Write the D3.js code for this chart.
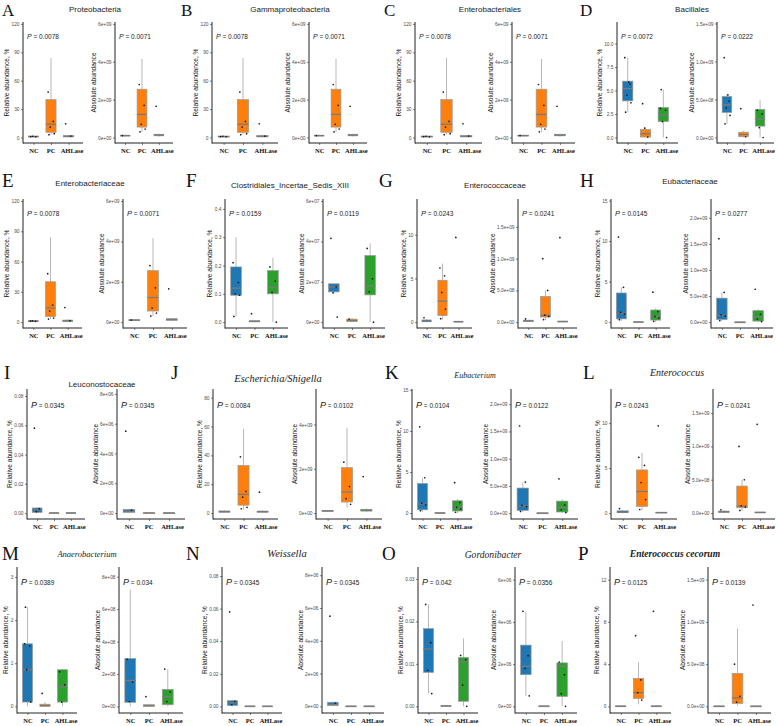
<!DOCTYPE html>
<html><head><meta charset="utf-8">
<script src="https://cdn.jsdelivr.net/npm/d3@7"></script>
<style>body{margin:0;background:#fff}svg{display:block}</style>
</head><body><svg id="chart" width="777" height="726"></svg>
<script>
// ---------------- DATA ----------------
const groups = ["NC", "PC", "AHLase"];
const groupColors = ["#1f77b4", "#ff7f0e", "#2ca02c"];

const panelLetters = ["A","B","C","D","E","F","G","H","I","J","K","L","M","N","O","P"];
const panelTitles = ["Proteobacteria","Gammaproteobacteria","Enterobacteriales","Bacillales",
  "Enterobacteriaceae","Clostridiales_Incertae_Sedis_XIII","Enterococcaceae","Eubacteriaceae",
  "Leuconostocaceae","Escherichia/Shigella","Eubacterium","Enterococcus",
  "Anaerobacterium","Weissella","Gordonibacter","Enterococcus cecorum"];
const titleStyles = ["sans","sans","sans","sans","sans","sans","sans","sans",
  "sans","italic","italic","italic","italic","italic","italic","bolditalic"];

const pRel = ["0.0078","0.0078","0.0078","0.0072","0.0078","0.0159","0.0243","0.0145",
  "0.0345","0.0084","0.0104","0.0243","0.0389","0.0345","0.042","0.0125"];
const pAbs = ["0.0071","0.0071","0.0071","0.0222","0.0071","0.0119","0.0241","0.0277",
  "0.0345","0.0102","0.0122","0.0241","0.034","0.0345","0.0356","0.0139"];

// tick values / labels
const tProtRel = [0,30,60,90,120], lProtRel = ["0","30","60","90","120"];
const tProtAbs = [0,2e9,4e9,6e9], lProtAbs = ["0e+00","2e+09","4e+09","6e+09"];
const tBacRel = [0,2.5,5,7.5,10], lBacRel = ["0.0","2.5","5.0","7.5","10.0"];
const tE9half = [0,5e8,1e9,1.5e9], lE9half = ["0.0e+00","5.0e+08","1.0e+09","1.5e+09"];
const tClosRel = [0,0.1,0.2,0.3,0.4], lClosRel = ["0.0","0.1","0.2","0.3","0.4"];
const tClosAbs = [0,2e7,4e7,6e7], lClosAbs = ["0e+00","2e+07","4e+07","6e+07"];
const tEntRel = [0,5,10], lEntRel = ["0","5","10"];
const tEubRel = [0,5,10,15], lEubRel = ["0","5","10","15"];
const tEubAbs = [0,5e8,1e9,1.5e9,2e9], lEubAbs = ["0.0e+00","5.0e+08","1.0e+09","1.5e+09","2.0e+09"];
const tLeuRel = [0,0.02,0.04,0.06,0.08], lLeuRel = ["0.00","0.02","0.04","0.06","0.08"];
const tLeuAbs = [0,2e6,4e6,6e6,8e6], lLeuAbs = ["0e+00","2e+06","4e+06","6e+06","8e+06"];
const tEscRel = [0,20,40,60,80], lEscRel = ["0","20","40","60","80"];
const tEscAbs = [0,2e9,4e9], lEscAbs = ["0e+00","2e+09","4e+09"];
const tAnaRel = [0,1,2,3], lAnaRel = ["0","1","2","3"];
const tAnaAbs = [0,2e8,4e8,6e8,8e8], lAnaAbs = ["0e+00","2e+08","4e+08","6e+08","8e+08"];
const tGorRel = [0,0.01,0.02,0.03], lGorRel = ["0.00","0.01","0.02","0.03"];
const tGorAbs = [0,2e6,4e6,6e6], lGorAbs = ["0e+00","2e+06","4e+06","6e+06"];
const tCecRel = [0,4,8,12], lCecRel = ["0","4","8","12"];

const relTicks = [tProtRel,tProtRel,tProtRel,tBacRel,tProtRel,tClosRel,tEntRel,tEubRel,
  tLeuRel,tEscRel,tEubRel,tEntRel,tAnaRel,tLeuRel,tGorRel,tCecRel];
const relTickLabels = [lProtRel,lProtRel,lProtRel,lBacRel,lProtRel,lClosRel,lEntRel,lEubRel,
  lLeuRel,lEscRel,lEubRel,lEntRel,lAnaRel,lLeuRel,lGorRel,lCecRel];
const absTicks = [tProtAbs,tProtAbs,tProtAbs,tE9half,tProtAbs,tClosAbs,tE9half,tEubAbs,
  tLeuAbs,tEscAbs,tEubAbs,tE9half,tAnaAbs,tLeuAbs,tGorAbs,tE9half];
const absTickLabels = [lProtAbs,lProtAbs,lProtAbs,lE9half,lProtAbs,lClosAbs,lE9half,lEubAbs,
  lLeuAbs,lEscAbs,lEubAbs,lE9half,lAnaAbs,lLeuAbs,lGorAbs,lE9half];

// upper end of each y scale
const relTop = [122,122,122,12.3,122,0.435,14.1,15.2,0.0848,86,15.1,13.8,3.23,0.0855,0.0328,13.2];
const absTop = [6.1e9,6.1e9,6.1e9,1.52e9,6.1e9,6.1e7,1.94e9,2.36e9,8.33e6,5.6e9,2.28e9,1.86e9,8.6e8,8.5e6,6.6e6,1.65e9];

// box stats per group: [lower whisker, Q1, median, Q3, upper whisker]
const protRelBoxes = [[0.3,0.6,1.0,1.5,2.0],[3,5.5,14,40,84],[0.3,0.6,1.2,2.0,2.8]];
const protRelPoints = [[1.0,0.8,1.3],[48,17,11,4,3],[14.5,1.5]];
const protAbsBoxes = [[0.6e8,0.8e8,1.0e8,1.2e8,1.4e8],[0.3e9,0.55e9,1.22e9,2.55e9,4.15e9],[0.5e8,0.9e8,1.3e8,1.7e8,2.0e8]];
const protAbsPoints = [[1.0e8],[2.8e9,1.7e9,0.7e9,0.45e9,0.3e9],[1.65e9]];

const bacRelBoxes = [[2.7,3.9,5.2,6.0,8.5],[0,0.05,0.4,0.85,1.05],[0,1.7,2.4,3.2,5.1]];
const bacRelPoints = [[8.5,5.7,4.5,3.7,2.7,5.9],[3.6,0.05,1.0],[3.1,2.9,1.7,0,5.1]];
const bacAbsBoxes = [[1.8e8,3.3e8,4.3e8,5.4e8,5.7e8],[0,0.1e8,0.4e8,0.7e8,0.85e8],[0,1.5e8,2.4e8,3.7e8,4.9e8]];
const bacAbsPoints = [[10.5e8,4.8e8,3.9e8,2.9e8,1.8e8,5.6e8],[3.8e8,0.1e8],[3.6e8,3.1e8,1.3e8,0]];

const closRelBoxes = [[0.02,0.095,0.12,0.195,0.3],[0,0.001,0.003,0.005,0.006],[0,0.1,0.122,0.182,0.228]];
const closRelPoints = [[0.21,0.14,0.1,0.095,0.02],[0.03],[0.195,0.145,0.105,0]];
const closAbsBoxes = [[1.4e7,1.5e7,1.75e7,1.9e7,1.9e7],[0,0.03e7,0.08e7,0.15e7,0.2e7],[0,1.35e7,1.8e7,3.3e7,3.9e7]];
const closAbsPoints = [[4.15e7,1.75e7,1.45e7,0.25e7],[0.15e7],[3.65e7,2.15e7,1.5e7,0]];

const entRelBoxes = [[0,0.05,0.1,0.25,0.35],[0.3,0.75,2.4,4.8,6.7],[0,0.02,0.05,0.1,0.15]];
const entRelPoints = [[0.5],[6.2,5.3,3.4,1.5,0.4],[9.7]];
const entAbsBoxes = [[0,0.1e8,0.2e8,0.3e8,0.4e8],[0.3e8,0.8e8,1.05e8,4.05e8,5e8],[0,0.05e8,0.1e8,0.15e8,0.2e8]];
const entAbsPoints = [[0.5e8],[10e8,5e8,1.1e8,0.9e8,0.4e8],[13.3e8]];

const eubRelBoxes = [[0.15,0.4,1.1,3.6,4.3],[0,0,0.02,0.04,0.05],[0,0.25,0.7,1.5,1.7]];
const eubRelPoints = [[10.5,4.3,1.2,1.0,0.3],[],[3.7,1.3,0.7,0.5,0.1]];
const eubAbsBoxes = [[0.2e8,0.5e8,1.3e8,4.6e8,5.7e8],[0,0,0.01e8,0.02e8,0.03e8],[0,0.2e8,1.0e8,2.2e8,2.5e8]];
const eubAbsPoints = [[16e8,5.7e8,1.4e8,1.2e8,0.3e8],[],[6.3e8,1.5e8,0.6e8,0.1e8]];

const leuRelBoxes = [[0,0.0005,0.0022,0.0035,0.004],[0,0,0.0001,0.0002,0.0003],[0,0,0.0001,0.0002,0.0003]];
const leuRelPoints = [[0.058,0.003,0.001],[],[]];
const leuAbsBoxes = [[0,0.5e5,1.2e5,2.5e5,3e5],[0,0,0.1e5,0.2e5,0.3e5],[0,0,0.1e5,0.2e5,0.3e5]];
const leuAbsPoints = [[5.5e6,2e5],[],[]];

const escRelBoxes = [[0.3,0.6,1.0,1.5,2.0],[2.5,5.5,13,33,58.5],[0.3,0.6,1.0,1.4,1.8]];
const escRelPoints = [[],[39,15,11,4,3],[14.5]];
const escAbsBoxes = [[0.6e8,0.8e8,1.0e8,1.2e8,1.4e8],[0.25e9,0.5e9,0.95e9,2.05e9,3.85e9],[0.5e8,0.9e8,1.3e8,1.7e8,2.0e8]];
const escAbsPoints = [[],[2.3e9,1.2e9,0.65e9,0.4e9],[1.65e9]];

const anaRelBoxes = [[0,0.1,0.85,1.45,2.3],[0,0,0.02,0.05,0.1],[0,0.1,0.45,0.85,0.85]];
const anaRelPoints = [[1.45,1.4,0.85,0.1,2.3],[0.3],[0.8,0.5,0.1]];
const anaAbsBoxes = [[0,0.25e8,1.6e8,2.95e8,7.2e8],[0,0,0.05e8,0.1e8,0.15e8],[0,0.1e8,0.6e8,1.05e8,2.3e8]];
const anaAbsPoints = [[2.9e8,1.5e8,0.3e8],[0.6e8],[2.3e8,0.9e8,0.3e8]];

const gorRelBoxes = [[0.003,0.008,0.0135,0.0183,0.024],[0,0,0.0001,0.0002,0.0003],[0,0.0012,0.0105,0.0115,0.016]];
const gorRelPoints = [[0.024,0.015,0.0085,0.003],[],[0.012,0.011,0.005,0]];
const gorAbsBoxes = [[0.5e6,1.5e6,1.9e6,2.9e6,4.5e6],[0,0,0.01e6,0.02e6,0.03e6],[0,0.47e6,1.9e6,2.06e6,3.1e6]];
const gorAbsPoints = [[4.5e6,2.4e6,1.8e6,0.5e6],[],[2.1e6,1.5e6,0.6e6,0]];

const cecRelBoxes = [[0,0.01,0.02,0.04,0.06],[0.2,0.75,1.3,2.65,4.2],[0,0.01,0.02,0.04,0.06]];
const cecRelPoints = [[],[6.7,2.5,1.3,0.6],[9.0]];
const cecAbsBoxes = [[0,0.01e8,0.02e8,0.04e8,0.06e8],[0.1e8,0.35e8,1e8,3.9e8,9.2e8],[0,0.01e8,0.02e8,0.04e8,0.06e8]];
const cecAbsPoints = [[],[5e8,1.2e8,0.5e8],[12e8]];

const relBoxes = [protRelBoxes,protRelBoxes,protRelBoxes,bacRelBoxes,protRelBoxes,closRelBoxes,entRelBoxes,eubRelBoxes,
  leuRelBoxes,escRelBoxes,eubRelBoxes,entRelBoxes,anaRelBoxes,leuRelBoxes,gorRelBoxes,cecRelBoxes];
const relPoints = [protRelPoints,protRelPoints,protRelPoints,bacRelPoints,protRelPoints,closRelPoints,entRelPoints,eubRelPoints,
  leuRelPoints,escRelPoints,eubRelPoints,entRelPoints,anaRelPoints,leuRelPoints,gorRelPoints,cecRelPoints];
const absBoxes = [protAbsBoxes,protAbsBoxes,protAbsBoxes,bacAbsBoxes,protAbsBoxes,closAbsBoxes,entAbsBoxes,eubAbsBoxes,
  leuAbsBoxes,escAbsBoxes,eubAbsBoxes,entAbsBoxes,anaAbsBoxes,leuAbsBoxes,gorAbsBoxes,cecAbsBoxes];
const absPoints = [protAbsPoints,protAbsPoints,protAbsPoints,bacAbsPoints,protAbsPoints,closAbsPoints,entAbsPoints,eubAbsPoints,
  leuAbsPoints,escAbsPoints,eubAbsPoints,entAbsPoints,anaAbsPoints,leuAbsPoints,gorAbsPoints,cecAbsPoints];

// ---------------- LAYOUT ----------------
const rowGeom = [
  {letterY: 16, letterSize: 17, top: 22, bottom: 143, pdy: 17, pSize: 7},
  {letterY: 187, letterSize: 19, top: 199, bottom: 328, pdy: 17, pSize: 7.5},
  {letterY: 379, letterSize: 19, top: 389, bottom: 519, pdy: 19, pSize: 9},
  {letterY: 560, letterSize: 19, top: 567, bottom: 713, pdy: 18, pSize: 9}
];
// [rel axis x, rel end x, abs axis x, abs end x]
const panelX = [
  [23,83,115,173],[212,278,309,367],[415,482,512,575],[617,678,717,774],
  [23,82,123,187],[225,288,323,385],[417,472,518,577],[611,670,711,773],
  [27,85,117,185],[213,278,316,382],[412,472,511,578],[611,677,713,775],
  [17,77,119,183],[222,282,322,384],[418,478,515,577],[610,671,708,771]
];
const letterX = [2,181,384,580, 2,186,379,580, 4,171,385,583, 2,186,382,578];
const titleX = [95,290,490,692, 90,290,495,690, 102,278,475,677, 87,287,493,675];
const titleY = [12,12,12,12, 186,188,188,184, 387,382,378,376, 557,557,558,557];
const titleSize = [8,8,8,8, 8,8,8,8, 8,10.5,8,10, 8.5,10.5,9.6,9.6];

const SANS = "'Liberation Sans', Arial, sans-serif";
const SERIF = "'Liberation Serif', 'Times New Roman', serif";
const jitter = [-0.28, 0.22, -0.08, 0.32, -0.2, 0.1, 0.3, -0.33];
const labelShift = [0, -0.5, 3];

const svg = d3.select("#chart");
svg.append("rect").attr("width", 777).attr("height", 726).attr("fill", "#fff");

function drawPlot(g, x0, x1, rg, ticks, labels, top, boxes, points, p, ytitle) {
  const y = d3.scaleLinear().domain([-top * 0.05 / 1.05, top]).range([rg.bottom, rg.top]);
  const x = d3.scalePoint().domain(groups).range([x0, x1 - 4]).padding(0.6);
  const bw = x.step() * 0.58;

  const ya = g.append("g").attr("transform", `translate(${x0},0)`)
    .call(d3.axisLeft(y).tickValues(ticks).tickFormat((d, k) => labels[k]).tickSize(2).tickPadding(1.5));
  ya.select(".domain").remove();
  ya.selectAll("line").attr("stroke", "#333").attr("stroke-width", 0.6);
  ya.selectAll("text").attr("font-family", SANS).attr("font-size", 4.8).attr("fill", "#4d4d4d");

  const xa = g.append("g").attr("transform", `translate(0,${rg.bottom})`)
    .call(d3.axisBottom(x).tickSize(2).tickPadding(3));
  xa.select(".domain").remove();
  xa.selectAll("line").attr("stroke", "#333").attr("stroke-width", 0.6);
  xa.selectAll("text").attr("font-family", SERIF).attr("font-weight", "bold")
    .attr("font-size", 6.5).attr("fill", "#111")
    .attr("dx", (d, k) => labelShift[k]);

  g.append("line").attr("x1", x0).attr("x2", x0).attr("y1", rg.top).attr("y2", rg.bottom + 0.5)
    .attr("stroke", "#222").attr("stroke-width", 1);
  g.append("line").attr("x1", x0).attr("x2", x1).attr("y1", rg.bottom).attr("y2", rg.bottom)
    .attr("stroke", "#222").attr("stroke-width", 1);

  boxes.forEach((b, k) => {
    const cx = x(groups[k]);
    const bx = g.append("g");
    bx.append("line").attr("x1", cx).attr("x2", cx).attr("y1", y(b[0])).attr("y2", y(b[1]))
      .attr("stroke", "#999").attr("stroke-width", 0.7);
    bx.append("line").attr("x1", cx).attr("x2", cx).attr("y1", y(b[3])).attr("y2", y(b[4]))
      .attr("stroke", "#999").attr("stroke-width", 0.7);
    const h = Math.max(y(b[1]) - y(b[3]), 0.8);
    bx.append("rect").attr("x", cx - bw / 2).attr("width", bw)
      .attr("y", y(b[3])).attr("height", h)
      .attr("fill", groupColors[k]).attr("stroke", "#999").attr("stroke-width", 0.7);
    bx.append("line").attr("x1", cx - bw / 2).attr("x2", cx + bw / 2)
      .attr("y1", y(b[2])).attr("y2", y(b[2]))
      .attr("stroke", "#7a7a7a").attr("stroke-width", 1.3);
  });

  points.forEach((arr, k) => {
    const cx = x(groups[k]);
    g.selectAll(null).data(arr).enter().append("circle")
      .attr("cx", (d, j) => cx + jitter[j % jitter.length] * bw)
      .attr("cy", d => y(d))
      .attr("r", 0.85).attr("fill", "#1a1a1a");
  });

  const pt = g.append("text").attr("x", x0 + 4).attr("y", rg.top + rg.pdy)
    .attr("font-family", SANS).attr("font-size", 6.5).attr("fill", "#1a1a1a");
  pt.append("tspan").attr("font-style", "italic").attr("font-size", rg.pSize).text("P");
  pt.append("tspan").text(" = " + p);

  const bb = ya.node().getBBox();
  g.append("text")
    .attr("transform", `translate(${x0 + bb.x - 2.5},${(rg.top + rg.bottom) / 2}) rotate(-90)`)
    .attr("text-anchor", "middle").attr("font-family", SANS).attr("font-size", 6.6)
    .attr("fill", "#1a1a1a").text(ytitle);
}

panelLetters.forEach((L, i) => {
  const rg = rowGeom[Math.floor(i / 4)];
  const g = svg.append("g").attr("class", "panel");
  g.append("text").attr("x", letterX[i]).attr("y", rg.letterY)
    .attr("font-family", SERIF).attr("font-size", rg.letterSize).attr("fill", "#111").text(L);
  const st = titleStyles[i];
  g.append("text").attr("x", titleX[i]).attr("y", titleY[i]).attr("text-anchor", "middle")
    .attr("font-family", st === "sans" ? SANS : SERIF)
    .attr("font-style", st === "sans" ? "normal" : "italic")
    .attr("font-weight", st === "bolditalic" ? "bold" : "normal")
    .attr("font-size", titleSize[i]).attr("fill", "#1a1a1a").text(panelTitles[i]);
  const px = panelX[i];
  drawPlot(g, px[0], px[1], rg, relTicks[i], relTickLabels[i], relTop[i], relBoxes[i], relPoints[i], pRel[i], "Relative abundance, %");
  drawPlot(g, px[2], px[3], rg, absTicks[i], absTickLabels[i], absTop[i], absBoxes[i], absPoints[i], pAbs[i], "Absolute abundance");
});
</script></body></html>
